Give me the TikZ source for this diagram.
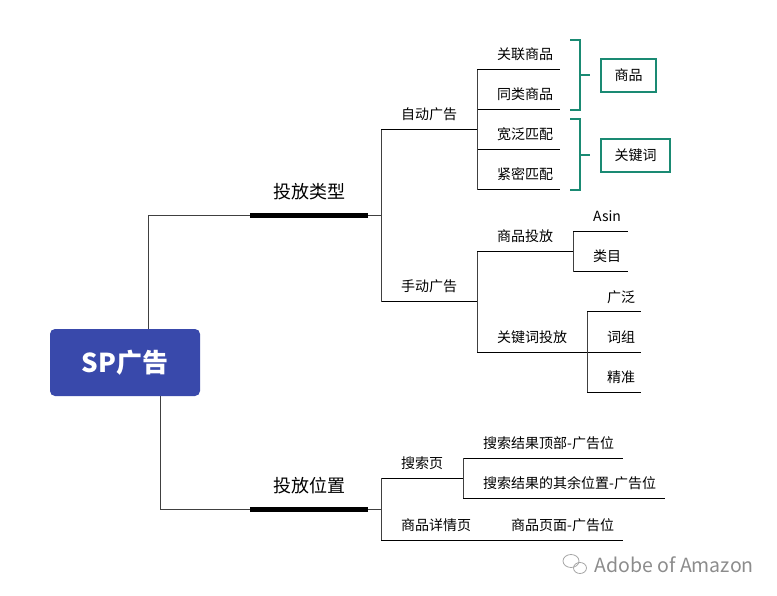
\documentclass[tikz,border=0pt]{standalone}
\usepackage{fontspec}
\setmainfont{Noto Sans CJK SC}
\usepackage{tikz}
\usetikzlibrary{positioning}
\definecolor{rootblue}{RGB}{57,73,171}
\definecolor{tagteal}{RGB}{26,138,115}
\tikzset{
  topic/.style={anchor=base west,inner sep=0pt,xshift=20pt,yshift=10pt,font=\fontsize{14}{16}\selectfont},
  maintopic/.style={topic,xshift=3pt,yshift=7pt,font=\fontsize{18}{20}\selectfont},
  uline/.style={black,line width=1pt},
  thickline/.style={black,line width=5pt},
  branch/.style={black!75,line width=1pt},
  bracket/.style={tagteal,line width=2pt},
  tagbox/.style={draw=tagteal,line width=2pt,inner sep=0pt,font=\fontsize{14}{16}\selectfont}
}
% #2 name, #3 left x, #4 right x, #5 y of the underline
\newcommand{\Topic}[6][topic]{%
  \coordinate (#2-l) at (#3,#5);
  \coordinate (#2-r) at (#4,#5);
  \node[#1] (#2) at (#2-l) {#6};}

\begin{document}
\begin{tikzpicture}[x=1pt,y=-1pt]
        \useasboundingbox (0,0) rectangle (777,596);
        \node[fill=rootblue,rounded corners=5pt,minimum width=150pt,minimum height=67pt,
              text=white,font=\fontsize{26}{28}\selectfont\bfseries] (root) at (125,362.5) {SP广告};
        % first level
        \Topic[maintopic]{type}{250}{368}{216}{投放类型}
        \Topic[maintopic]{place}{250}{368}{509}{投放位置}
        % second level
        \Topic{auto}{381}{477}{130}{自动广告}
        \Topic{manual}{381}{477}{302}{手动广告}
        \Topic{search}{381}{463}{478}{搜索页}
        \Topic{detail}{381}{491}{540}{商品详情页}
        % third level
        \Topic{rel}{477}{560}{70}{关联商品}
        \Topic{same}{477}{560}{110}{同类商品}
        \Topic{broad}{477}{560}{150}{宽泛匹配}
        \Topic{exact}{477}{560}{190}{紧密匹配}
        \Topic{prod}{477}{573}{252}{商品投放}
        \Topic{kw}{477}{587}{352}{关键词投放}
        \Topic{top}{463}{623}{458}{搜索结果顶部-广告位}
        \Topic{rest}{463}{665}{498}{搜索结果的其余位置-广告位}
        \Topic{page}{491}{623}{540}{商品页面-广告位}
        % fourth level
        \Topic{asin}{573}{628}{232}{Asin}
        \Topic{cat}{573}{628}{272}{类目}
        \Topic{kwbroad}{587}{641}{312}{广泛}
        \Topic{phrase}{587}{641}{352}{词组}
        \Topic{kwexact}{587}{641}{392}{精准}

        \draw[thickline] (type-l) -- (type-r);
        \draw[thickline] (place-l) -- (place-r);
        \foreach \t in {auto,manual,search,detail,rel,same,broad,exact,prod,kw,top,rest,page,asin,cat,kwbroad,phrase,kwexact}
          \draw[uline] (\t-l) -- (\t-r);

        \draw[branch] ([xshift=23pt]root.north) |- (type-l);
        \draw[branch] ([xshift=35pt]root.south) |- (place-l);
        \draw[branch] (type-r) -- ++(13,0) |- (auto-l);
        \draw[branch] (type-r) -- ++(13,0) |- (manual-l);
        \draw[branch] (place-r) -- ++(13,0) |- (search-l);
        \draw[branch] (place-r) -- ++(13,0) |- (detail-l);
        \foreach \c in {rel,same,broad,exact}
          \draw[branch] (auto-r) |- (\c-l);
        \draw[branch] (manual-r) |- (prod-l);
        \draw[branch] (manual-r) |- (kw-l);
        \draw[branch] (prod-r) |- (asin-l);
        \draw[branch] (prod-r) |- (cat-l);
        \foreach \c in {kwbroad,phrase,kwexact}
          \draw[branch] (kw-r) |- (\c-l);
        \draw[branch] (search-r) |- (top-l);
        \draw[branch] (search-r) |- (rest-l);
        \draw[branch] (detail-r) -- (page-l);

        % summaries
        \node[tagbox,minimum width=55pt,minimum height=33pt] (goods) at (628.5,75.5) {商品};
        \node[tagbox,minimum width=69pt,minimum height=33pt] (words) at (635.5,155.5) {关键词};
        \draw[bracket] (570,40) -- (580,40) -- (580,110) -- (570,110);
        \draw[bracket] (580,75) -- (590,75);
        \draw[bracket] (570,119) -- (580,119) -- (580,190) -- (570,190);
        \draw[bracket] (580,155) -- (590,155);

        % watermark
        \draw[black!35,line width=0.8pt] (571,561) ellipse (8 and 6.5);
        \draw[black!35,line width=0.8pt] (580,568) ellipse (6.5 and 5.5);
        \node[text=black!45,font=\fontsize{19.5}{21}\selectfont,anchor=west] (mark) at (591,565) {Adobe of Amazon};
      \end{tikzpicture}
\end{document}
